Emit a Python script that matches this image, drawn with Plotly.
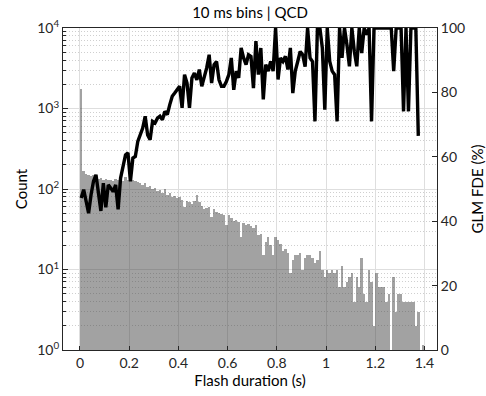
import plotly.graph_objects as go

# Histogram: 10 ms bins starting at 0 s
bin_width = 0.01
counts = [1740, 165, 152, 150, 145, 148, 140, 135, 138, 130,
          133, 128, 130, 125, 135, 128, 132, 126, 140, 130,
          145, 128, 125, 122, 120, 112, 118, 105, 108, 100,
          103, 95, 98, 90, 100, 85, 88, 80, 82, 78,
          80, 72, 60, 70, 68, 66, 70, 85, 68, 62,
          56, 58, 60, 45, 56, 52, 50, 49, 47, 36,
          48, 44, 40, 41, 39, 25, 38, 36, 37, 35,
          33, 36, 27, 28, 15, 22, 25, 20, 15, 25,
          23, 21, 17, 18, 16, 9, 13, 15, 15, 16,
          10, 14, 15, 15, 14, 12, 13, 17, 10, 8,
          10, 9, 10, 9, 10, 6, 11, 6, 7, 8,
          9, 4, 8, 6, 14, 5, 4, 10, 7, 2,
          9, 6, 6, 6, 4, 5, None, 8, 3, 5,
          5, 4, 4, 4, 4, 4, 2, 3, None, 1.15]

# GLM flash detection efficiency (%) per bin
fde = [47.2, 49.8, 46.2, 42.5, 48.2, 52.4, 54.4, 48.2, 43.2, 51.8,
       44.3, 51.3, 50.3, 49.2, 51.3, 43.7, 53.4, 56.5, 60.6, 61.2,
       52.4, 59.6, 60.1, 64.8, 66.8, 68.9, 72.6, 66.8, 65.3, 71.0,
       70.5, 72.0, 72.6, 71.5, 74.1, 73.1, 76.2, 78.8, 79.8, 80.8,
       81.9, 75.2, 85.5, 82.9, 75.2, 84.5, 86.0, 83.9, 87.1, 81.9,
       84.5, 87.6, 91.7, 82.9, 88.6, 89.6, 83.9, 81.9, 81.9, 83.4,
       85.5, 90.7, 80.8, 86.6, 84.5, 93.8, 90.7, 88.6, 91.7, 91.2,
       81.3, 95.9, 85.5, 93.8, 77.8, 88.6, 86.6, 89.6, 86.6, 100,
       84.0, 90.7, 89.6, 91.2, 87.1, 93.8, 79.8, 86.6, 89.6, 92.7,
       91.7, 88.0, 100, 90.7, 89.6, 71.0, 100, 100, 93.8, 74.6,
       100, 89.6, 86.6, 85.5, 71.0, 100, 90.7, 100, 94.8, 88.1,
       100, 92.7, 88.1, 100, 92.2, 100, 97.9, 100, 71.0, 100,
       100, 100, 100, 100, 100, 100, 100, 86.6, 100, 100,
       100, 74.1, 100, 74.1, 100, 100, 100, 66.5]

x_ticks = [0, 0.2, 0.4, 0.6, 0.8, 1, 1.2, 1.4]
y_ticks = [1, 10, 100, 1000, 10000]
y_ticktext = ["10<sup>0</sup>", "10<sup>1</sup>", "10<sup>2</sup>", "10<sup>3</sup>", "10<sup>4</sup>"]
y_minor = [m * d for d in [1, 10, 100, 1000] for m in range(2, 10)]
y2_ticks = [0, 20, 40, 60, 80, 100]

FONT = "Lato, 'Open Sans', sans-serif"
AX = "#262626"

fig = go.Figure()
fig.add_trace(go.Bar(
    x0=bin_width / 2, dx=bin_width, y=counts, width=bin_width,
    marker=dict(color="rgba(60,60,60,0.48)", line=dict(width=0)),
    showlegend=False, hoverinfo="skip"))
fig.add_trace(go.Scatter(
    x0=bin_width / 2, dx=bin_width, y=fde, yaxis="y2", mode="lines",
    line=dict(color="black", width=3.4), showlegend=False))

fig.update_layout(
    width=486, height=396,
    margin=dict(l=63, r=49, t=28, b=46, autoexpand=False),
    paper_bgcolor="white", plot_bgcolor="white",
    bargap=0,
    font=dict(family=FONT, size=14, color=AX),
    title=dict(text="10 ms bins | QCD", x=0.5, xref="paper", xanchor="center",
               y=1 - 13 / 396, yanchor="middle", font=dict(size=15, color="black")),
    xaxis=dict(range=[-0.069, 1.451], tickvals=x_ticks, ticks="inside", ticklen=4,
               tickcolor=AX, showline=True, linecolor=AX, linewidth=1, mirror=True,
               showgrid=True, gridcolor="#dedede", gridwidth=1, zeroline=False,
               automargin=False,
               title=dict(text="Flash duration (s)", standoff=5, font=dict(size=15, color="black"))),
    yaxis=dict(type="log", range=[0, 4], tickvals=y_ticks, ticktext=y_ticktext,
               ticks="inside", ticklen=5, tickcolor=AX,
               showline=True, linecolor=AX, linewidth=1, mirror=True,
               showgrid=True, gridcolor="#dedede", gridwidth=1, zeroline=False,
               automargin=False,
               minor=dict(tickvals=y_minor, ticks="inside", ticklen=3, tickcolor=AX,
                          showgrid=True, gridcolor="#cfcfcf", griddash="1px,2px", gridwidth=1),
               title=dict(text="Count", standoff=6, font=dict(size=15, color="black"))),
    yaxis2=dict(overlaying="y", side="right", range=[0, 100], tickvals=y2_ticks,
                ticks="inside", ticklen=5, tickcolor=AX, showline=True, linecolor=AX,
                linewidth=1, showgrid=False, zeroline=False, automargin=False,
                title=dict(text="GLM FDE (%)", standoff=8, font=dict(size=15, color="black"))),
)

fig.write_html("out.html")
